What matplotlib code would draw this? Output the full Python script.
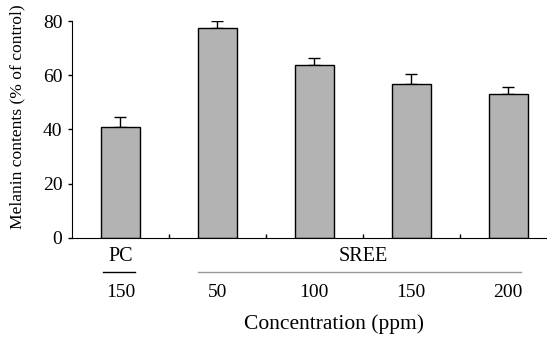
import matplotlib.pyplot as plt
import numpy as np

# data
groups = ["PC", "SREE", "SREE", "SREE", "SREE"]
conc = ["150", "50", "100", "150", "200"]
melanin = [41, 77.5, 63.8, 56.6, 52.9]
err = [3.7, 2.5, 2.7, 3.7, 2.7]

plt.rcParams['font.family'] = ['Liberation Serif', 'DejaVu Serif']
fig = plt.figure(figsize=(5.47, 3.41), dpi=100)
ax = fig.add_axes([0.1316, 0.3029, 0.8684, 0.6355])

x = np.arange(len(melanin))
ax.bar(x, melanin, width=0.4, color='#b3b3b3', edgecolor='black', linewidth=1.0, zorder=2)
ax.errorbar(x, melanin, yerr=[np.zeros(len(err)), err], fmt='none', ecolor='black',
            elinewidth=1.0, capsize=4, capthick=1.0, zorder=1)

ax.set_xlim(-0.5, 4.4)
ax.set_ylim(0, 80)
ax.set_yticks([0, 20, 40, 60, 80])
ax.tick_params(axis='y', direction='out', length=3, labelsize=14, width=1, pad=4)
ax.set_xticks(np.arange(0, 4.5, 0.5))
ax.set_xticklabels([])
ax.tick_params(axis='x', direction='in', length=3, width=1)
for s in ['top', 'right']:
    ax.spines[s].set_visible(False)

# category labels under the axis
tr = ax.get_xaxis_transform()
ax.text(0, -0.089, "PC", transform=tr, ha='center', va='center', fontsize=14.5)
ax.plot([-0.18, 0.15], [-0.158, -0.158], transform=tr, color='black', lw=1.0, clip_on=False)
ax.text(2.5, -0.089, "SREE", transform=tr, ha='center', va='center', fontsize=14.5)
ax.plot([0.8, 4.13], [-0.158, -0.158], transform=tr, color='#999999', lw=1.0, clip_on=False)
for xi, c in zip(x, conc):
    ax.text(xi, -0.255, c, transform=tr, ha='center', va='center', fontsize=14)
ax.text(2.2, -0.397, "Concentration (ppm)", transform=tr, ha='center', va='center', fontsize=15.5)

fig.text(0.031, 0.658, "Melanin contents (% of control)", rotation=90,
         ha='center', va='center', fontsize=12.6)

fig.savefig("out.png", dpi=100)
